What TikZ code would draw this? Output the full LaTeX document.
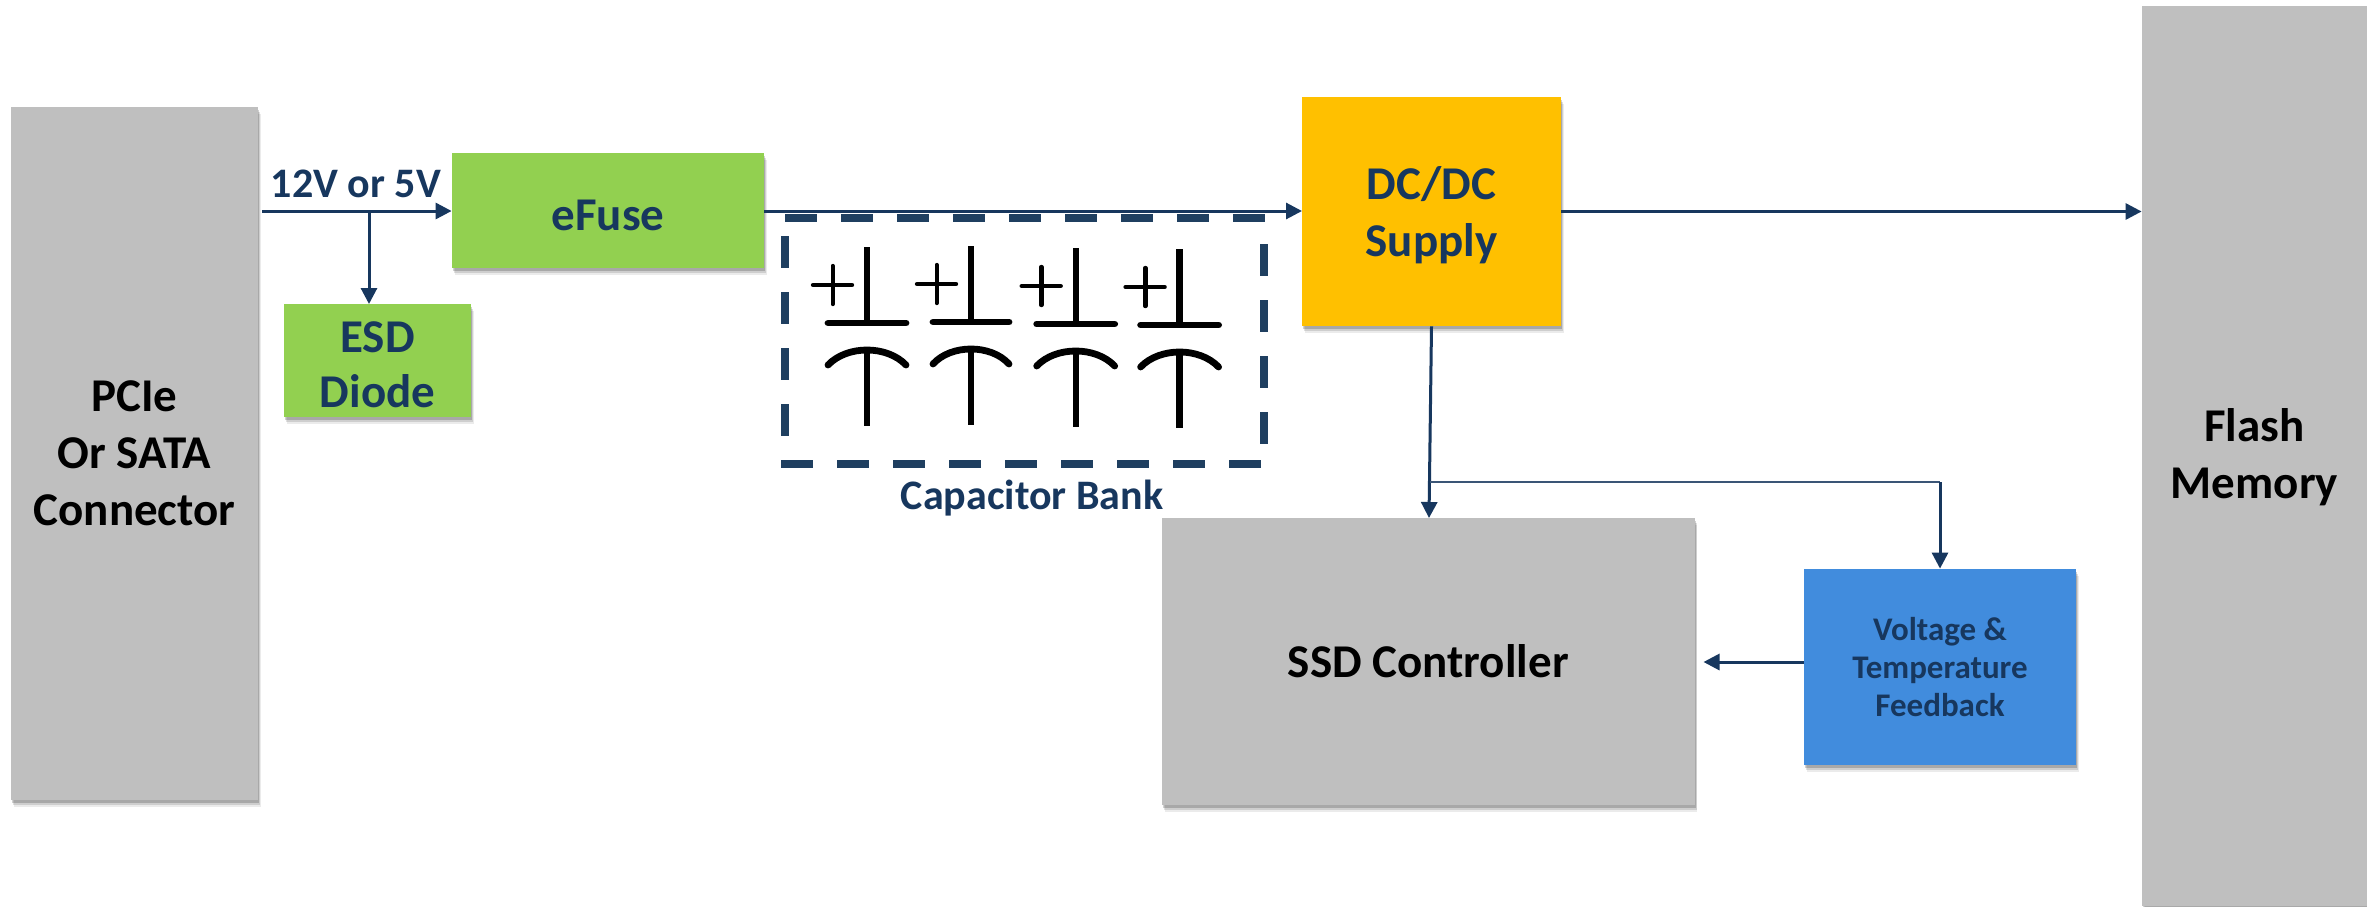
\documentclass[tikz,border=0pt]{standalone}
\usepackage{fontspec}
\setmainfont{Carlito}
\usetikzlibrary{arrows.meta,shadows}
\definecolor{navy}{HTML}{17375E}
\definecolor{dashnavy}{HTML}{1F3F60}
\definecolor{boxgrey}{HTML}{BFBFBF}
\definecolor{boxgreen}{HTML}{92D050}
\definecolor{boxorange}{HTML}{FFC000}
\definecolor{boxblue}{HTML}{418CDD}
\tikzset{
  softshadow/.style={
    drop shadow={shadow xshift=1.4pt,shadow yshift=-3.4pt,opacity=.08,fill=black},
    drop shadow={shadow xshift=1pt,shadow yshift=-2.6pt,opacity=.12,fill=black},
    drop shadow={shadow xshift=.6pt,shadow yshift=-1.6pt,opacity=.18,fill=black}},
  blockbox/.style={softshadow,inner sep=0pt,align=center,font=\bfseries\fontsize{23.5}{28.5}\selectfont},
  greybox/.style={blockbox,fill=boxgrey,text=black},
  greenbox/.style={blockbox,fill=boxgreen,text=navy},
  orangebox/.style={blockbox,fill=boxorange,text=navy},
  bluebox/.style={blockbox,fill=boxblue,text=navy,font=\bfseries\fontsize{16.5}{18.9}\selectfont},
  wire/.style={draw=navy,line width=1.5pt,-{Triangle[length=8pt,width=8pt]}},
  thinwire/.style={draw=navy!85,line width=.8pt},
  label/.style={text=navy,inner sep=0pt,font=\bfseries\fontsize{21}{25}\selectfont},
  dashside/.style={draw=dashnavy,line width=3.8pt},
  capline/.style={draw=black,line width=3.2pt},
  capround/.style={draw=black,line width=3.4pt,line cap=round},
  plusline/.style={draw=black,line width=2.2pt,line cap=round}
}
\begin{document}
\begin{tikzpicture}[x=0.5pt,y=-0.5pt]
\useasboundingbox (0,0) rectangle (2367,906);
\fill[white] (0,0) rectangle (2367,906);

% blocks
\node[greybox,minimum width=123.5pt,minimum height=346.5pt] (pcie) at (134.5,453.5) {PCIe\\Or SATA\\Connector};
\node[greenbox,minimum width=156pt,minimum height=57.5pt] (efuse) at (608,210.5) {\rule{0pt}{20pt}eFuse};
\node[greenbox,minimum width=93.5pt,minimum height=56.5pt,font=\bfseries\fontsize{23.5}{27.5}\selectfont] (esd) at (377.5,360.5) {\rule{0pt}{20pt}ESD\\Diode};
\node[orangebox,minimum width=129.5pt,minimum height=114.5pt] (dcdc) at (1431.5,211.5) {\rule{0pt}{20pt}DC/DC\\Supply};
\node[greybox,minimum width=266.25pt,minimum height=143.5pt] (ctrl) at (1428.25,661.5) {SSD Controller};
\node[bluebox,minimum width=136pt,minimum height=98pt] (fb) at (1940,667) {Voltage \&\\Temperature\\Feedback};
\node[greybox,minimum width=112.5pt,minimum height=450pt] (flash) at (2254.5,456) {\rule{0pt}{18pt}Flash\\Memory};

% labels
\node[label] (vlabel) at (356,184) {12V or 5V};
\node[label] (bank) at (1032,498) {Capacitor Bank};

% coordinates for wire ends
\coordinate (vstart) at (262,211);
\coordinate (vbranch) at (369,211);
\coordinate (busin) at (1302,211);
\coordinate (tap) at (1430,482);
\coordinate (fbin) at (1940,482);
\coordinate (ctrlin) at (1703.5,662);
\coordinate (esdin) at (369,304);
\coordinate (ctrltop) at (1429,518);

% connectors
\draw[wire] (vstart) -- (vstart -| efuse.west);
\draw[wire] (vbranch) -- (esdin);
\draw[wire] (efuse.east |- busin) -- (busin);
\draw[wire] (dcdc.east) -- (dcdc.east -| flash.west);
\draw[wire] (dcdc.south) -- (ctrltop);
\draw[thinwire] (tap) -- (fbin);
\draw[wire] (fbin) -- (fb.north);
\draw[wire] (fb.west |- ctrlin) -- (ctrlin);

% capacitor bank border
\draw[dashside,dash pattern=on 16pt off 12pt] (785,218) -- (1268,218);
\draw[dashside,dash pattern=on 16pt off 12pt] (1264,244) -- (1264,444);
\draw[dashside,dash pattern=on 16pt off 12pt] (781,464) -- (1262,464);
\draw[dashside,dash pattern=on 16pt off 12pt] (785,236) -- (785,436);

% capacitors
\foreach \cx/\dy/\hw in {867/0/39,971/-1/38,1075.7/1/39,1179.6/2/39}{
  \begin{scope}[shift={(\cx,\dy)}]
    \draw[capline] (0,247) -- (0,322);
    \draw[capround] (-\hw,323) -- (\hw,323);
    \draw[capround] (-\hw,365) .. controls (-20,345) and (20,345) .. (\hw,365);
    \draw[capline] (0,350) -- (0,426);
    \draw[plusline] (-54,285) -- (-15,285);
    \draw[plusline] (-34.3,266) -- (-34.3,304);
  \end{scope}
}
\end{tikzpicture}
\end{document}
